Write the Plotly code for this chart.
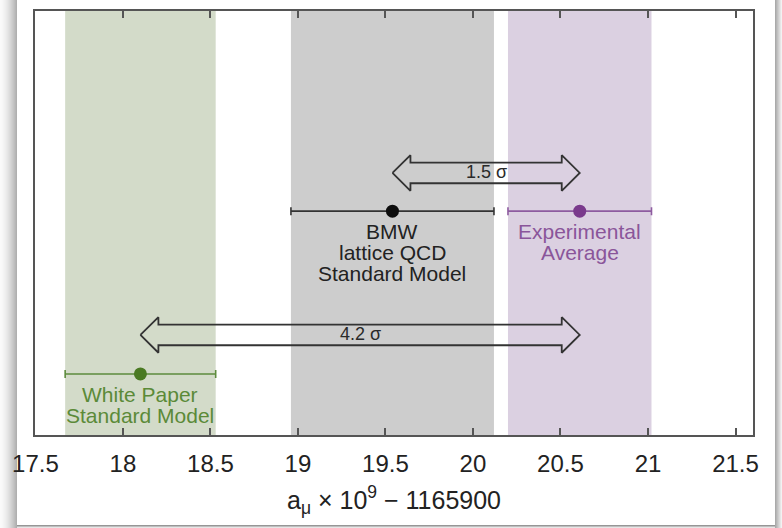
import plotly.graph_objects as go

# Muon g-2 comparison: a_mu x 1e9 - 1165900
names = ["White Paper\nStandard Model", "BMW\nlattice QCD\nStandard Model", "Experimental\nAverage"]
centers = [18.10, 19.54, 20.61]
errors = [0.43, 0.58, 0.41]
rows = [0.144, 0.528, 0.528]

# tension arrows: (from index, to index, label, height)
tension_from = [1, 0]
tension_to = [2, 2]
tension_text = ["1.5 σ", "4.2 σ"]
tension_y = [0.618, 0.236]

tick_vals = [17.5, 18, 18.5, 19, 19.5, 20, 20.5, 21, 21.5]
tick_text = ["17.5", "18", "18.5", "19", "19.5", "20", "20.5", "21", "21.5"]

band_colors = ["#D3DBC9", "#CDCDCD", "#DBD0E1"]
point_colors = ["#4A7A22", "#0d0d0d", "#7A3A8C"]
bar_colors = ["#5E8C3E", "#333333", "#8E5CA0"]
text_colors = ["#5B8A38", "#222222", "#8A559A"]

W, H = 782, 528
X_RANGE = [17.5, 21.6]
Y_RANGE = [0, 1]
# plot area in pixels
PL, PR, PT, PB = 35.4, 753.0, 11.0, 435.0
FONT = "Liberation Sans, Arial, Helvetica, sans-serif"

px_per_x = (PR - PL) / (X_RANGE[1] - X_RANGE[0])
px_per_y = (PB - PT) / (Y_RANGE[1] - Y_RANGE[0])

fig = go.Figure()
shapes = []

# page shadow around the figure
for i in range(17):
    g = int(250 - (i / 16) ** 1.6 * 75)
    shapes.append(dict(type="rect", xref="paper", yref="paper",
                       x0=i / W, x1=(i + 1) / W, y0=0, y1=1,
                       fillcolor=f"rgb({g},{g},{g})", line_width=0, layer="below"))
for i in range(7):
    g = int(170 + i * 12)
    shapes.append(dict(type="rect", xref="paper", yref="paper",
                       x0=(775 + i) / W, x1=(776 + i) / W, y0=0, y1=1,
                       fillcolor=f"rgb({g},{g},{g})", line_width=0, layer="below"))
for i in range(3):
    g = int(150 + i * 40)
    shapes.append(dict(type="rect", xref="paper", yref="paper",
                       x0=17 / W, x1=775 / W, y0=1 - (526 + i) / H, y1=1 - (525 + i) / H,
                       fillcolor=f"rgb({g},{g},{g})", line_width=0, layer="below"))

# uncertainty bands
for c, e, col in zip(centers, errors, band_colors):
    shapes.append(dict(type="rect", xref="x", yref="y", x0=c - e, x1=c + e,
                       y0=Y_RANGE[0], y1=Y_RANGE[1], fillcolor=col,
                       line_width=0, layer="below"))

# points with horizontal error bars
for c, e, y, pc, bc in zip(centers, errors, rows, point_colors, bar_colors):
    fig.add_trace(go.Scatter(
        x=[c], y=[y], mode="markers",
        marker=dict(size=13, color=pc),
        error_x=dict(type="data", array=[e], color=bc, thickness=1.6, width=4),
        showlegend=False, hoverinfo="skip"))

# hollow double-headed arrows between results
head_len = 18 / px_per_x
shaft_h = 10.3 / px_per_y
head_h = 17.8 / px_per_y
for a, b, txt, yc in zip(tension_from, tension_to, tension_text, tension_y):
    x0, x1 = centers[a], centers[b]
    xs = [x0, x0 + head_len, x0 + head_len, x1 - head_len, x1 - head_len, x1,
          x1 - head_len, x1 - head_len, x0 + head_len, x0 + head_len, x0]
    ys = [yc, yc + head_h, yc + shaft_h, yc + shaft_h, yc + head_h, yc,
          yc - head_h, yc - shaft_h, yc - shaft_h, yc - head_h, yc]
    fig.add_trace(go.Scatter(x=xs, y=ys, mode="lines",
                             line=dict(color="#333333", width=1.8),
                             showlegend=False, hoverinfo="skip"))
    fig.add_annotation(x=(x0 + x1) / 2, y=yc, text=txt, showarrow=False,
                       yshift=1, font=dict(family=FONT, size=18, color="#2a2a2a"))

# result labels, one line per annotation for tight spacing
for c, y, name, tc in zip(centers, rows, names, text_colors):
    for k, line in enumerate(name.split("\n")):
        fig.add_annotation(x=c, y=y, text=line, showarrow=False,
                           yshift=-(20.5 + 20.8 * k),
                           font=dict(family=FONT, size=21, color=tc))

# axis title
fig.add_annotation(xref="paper", yref="paper", x=(PL + PR) / 2 / W, y=1 - 500 / H,
                   xanchor="center", yanchor="middle",
                   text="a<sub>μ</sub> × 10<sup>9</sup> − 1165900", showarrow=False,
                   font=dict(family=FONT, size=25, color="#222222"))

fig.update_layout(
    template="none",
    width=W, height=H,
    margin=dict(l=0, r=0, t=0, b=0, pad=0),
    paper_bgcolor="white", plot_bgcolor="white",
    shapes=shapes,
    xaxis=dict(domain=[PL / W, PR / W], range=X_RANGE, tickvals=tick_vals,
               ticktext=tick_text, ticks="inside", ticklen=7, tickwidth=2,
               tickcolor="#555555", showline=True, linecolor="#555555", linewidth=2,
               mirror="ticks", showgrid=False, zeroline=False, automargin=False,
               tickfont=dict(family=FONT, size=24, color="#222222"),
               ticklabelstandoff=6),
    yaxis=dict(domain=[1 - PB / H, 1 - PT / H], range=Y_RANGE, showline=True,
               linecolor="#555555", linewidth=2, mirror=True, showgrid=False,
               zeroline=False, showticklabels=False, ticks="", automargin=False),
)

fig.write_html("out.html")
